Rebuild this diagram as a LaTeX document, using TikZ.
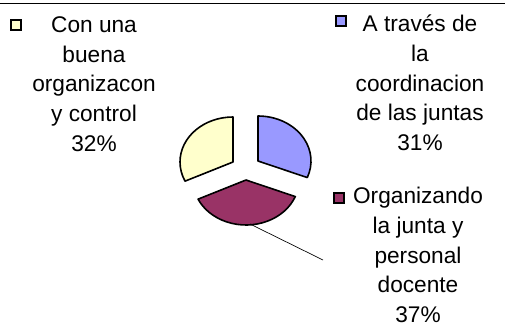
\documentclass[tikz,border=0pt]{standalone}
\usepackage{fontspec}
\setmainfont{Liberation Sans}
\usepackage{tikz}
\usetikzlibrary{calc}

\definecolor{sliceyellow}{HTML}{FFFFCC}
\definecolor{sliceblue}{HTML}{9999FF}
\definecolor{slicepurple}{HTML}{993366}

\tikzset{
    slice/.style={draw=black, line width=1.2pt, line join=round},
    legtext/.style={align=center, font=\fontsize{17}{22.3}\selectfont, inner sep=0pt},
    legkey/.style={draw=black, line width=0.9pt, minimum size=7.5pt, inner sep=0pt},
}

\begin{document}
\begin{tikzpicture}[x=0.75pt, y=0.75pt]
    \useasboundingbox (0,0) rectangle (505,-328);
    %% Frame
    \draw[line width=1.1pt] (0,-3.5) -- (505,-3.5);
    %% Slices
    \draw[slice, fill=sliceyellow] (233,-162) -- ++(0,45)
        arc[start angle=90, end angle=205.2, x radius=53, y radius=45] -- cycle;
    \draw[slice, fill=sliceblue] (258,-161) -- ++(0,45)
        arc[start angle=90, end angle=-21.6, x radius=53, y radius=45] -- cycle;
    \draw[slice, fill=slicepurple] (246,-180) -- ++(49.28,-16.56)
        arc[start angle=-21.6, end angle=-154.8, x radius=53, y radius=45] -- cycle;
    %% Labels
    \node[legtext] (organiza) at (94,-84)
        {Con una\\buena\\organizacon\\y control\\32\%};
    \node[legkey, fill=sliceyellow] (keyorg) at (16,-25) {};
    \node[legtext] (coordina) at (420,-83)
        {A través de\\la\\coordinacion\\de las juntas\\31\%};
    \node[legkey, fill=sliceblue] (keycoord) at (341,-21) {};
    \node[legtext] (junta) at (418,-255)
        {Organizando\\la junta y\\personal\\docente\\37\%};
    \node[legkey, fill=slicepurple] (keyjunta) at (339,-198) {};
    %% Leader
    \coordinate (leadstart) at (250,-224);
    \coordinate (leadend) at (323,-260);
    \draw[line width=0.5pt] (leadstart) -- (leadend);
\end{tikzpicture}
\end{document}
